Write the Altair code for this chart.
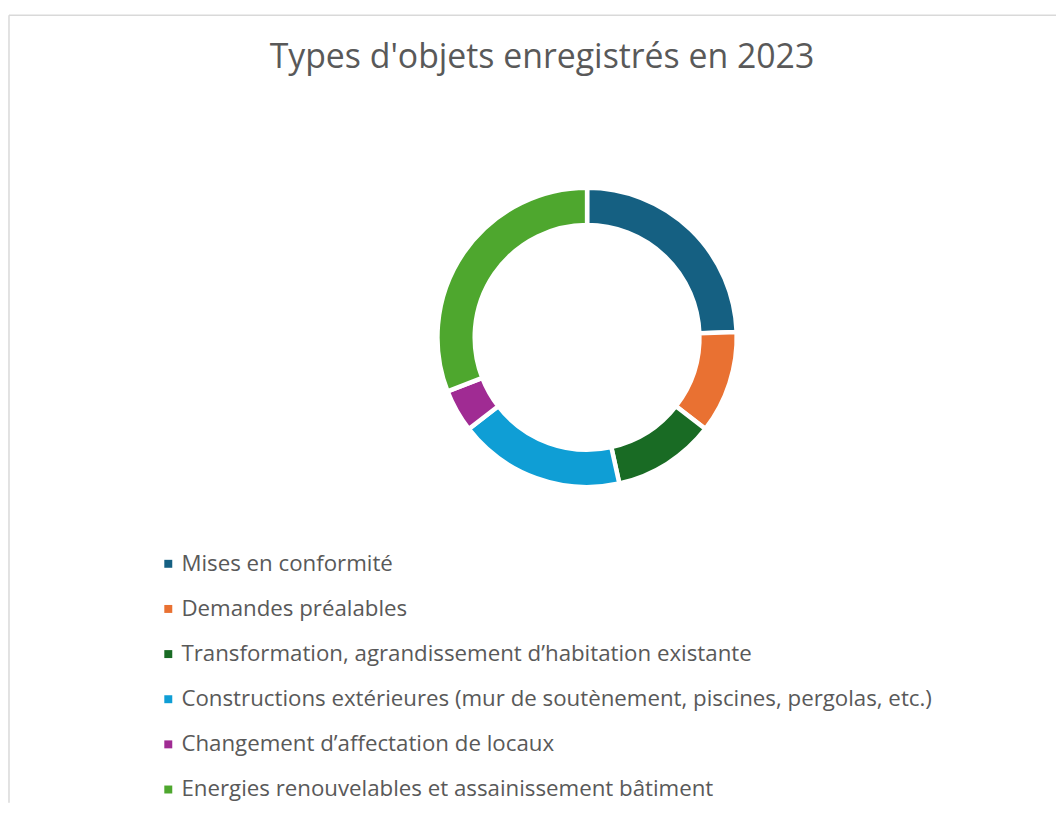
import altair as alt
import pandas as pd

categories = [
    "Mises en conformité",
    "Demandes préalables",
    "Transformation, agrandissement d’habitation existante",
    "Constructions extérieures (mur de soutènement, piscines, pergolas, etc.)",
    "Changement d’affectation de locaux",
    "Energies renouvelables et assainissement bâtiment",
]
values = [53, 24, 24, 39, 10, 67]
colors = ["#156082", "#E97132", "#196B24", "#0F9ED5", "#A02B93", "#4EA72E"]
title_text = "Types d'objets enregistrés en 2023"

df = pd.DataFrame({"objet": categories, "nombre": values, "ordre": list(range(len(categories)))})

FONT = "Open Sans"
TXT = "#595959"
W, H = 1054, 797

arc = alt.Chart(df).mark_arc(
    radius=150.5, radius2=113, stroke="white", strokeWidth=4.5
).encode(
    theta=alt.Theta("nombre:Q", stack=True),
    order=alt.Order("ordre:Q"),
    x=alt.value(582.4),
    y=alt.value(329),
    color=alt.Color(
        "objet:N",
        sort=categories,
        scale=alt.Scale(domain=categories, range=colors),
        legend=alt.Legend(
            title=None,
            orient="none",
            legendX=150,
            legendY=545.5,
            direction="vertical",
            symbolType="square",
            symbolSize=64,
            symbolStrokeWidth=0,
            labelFont=FONT,
            labelFontSize=22.4,
            labelColor=TXT,
            labelOffset=2,
            labelLimit=900,
            rowPadding=22.4,
            padding=0,
        ),
    ),
)

frame_data = alt.Data(values=[{"k": 1}])
top_line = alt.Chart(frame_data).mark_rule(color="#D9D9D9", strokeWidth=1.5).encode(
    x=alt.value(1), x2=alt.value(W), y=alt.value(5)
)
left_line = alt.Chart(frame_data).mark_rule(color="#D9D9D9", strokeWidth=1.5).encode(
    x=alt.value(1), y=alt.value(5), y2=alt.value(H)
)

chart = alt.layer(top_line, left_line, arc).properties(
    width=W,
    height=H,
    autosize=alt.AutoSizeParams(type="none"),
    padding=0,
    title=alt.TitleParams(
        title_text,
        font=FONT,
        fontSize=34,
        fontWeight="normal",
        color=TXT,
        anchor="middle",
        frame="group",
        baseline="alphabetic",
        offset=0,
        dy=92,
        dx=10,
    ),
).configure_view(stroke=None)

chart.save("out.html", embed_options={"renderer": "svg", "actions": False})
